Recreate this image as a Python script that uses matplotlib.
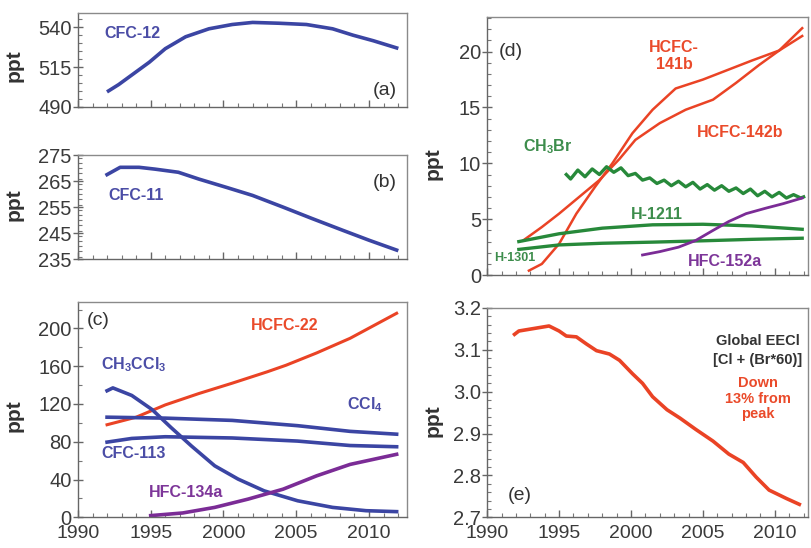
import matplotlib
matplotlib.use("Agg")
import matplotlib.pyplot as plt
from matplotlib.ticker import MultipleLocator, FormatStrFormatter

plt.rcParams['font.family'] = ['Liberation Sans', 'DejaVu Sans']
plt.rcParams['mathtext.fontset'] = 'custom'
plt.rcParams['mathtext.rm'] = 'Liberation Sans:bold'
plt.rcParams['mathtext.bf'] = 'Liberation Sans:bold'

BLUE = '#3b45a3'
RED = '#ea4325'
GREEN = '#27893a'
PURPLE = '#7b2c96'
BLUE_T = '#4b4da6'
RED_T = '#ea4a2a'
GREEN_T = '#3d8d4c'
PURPLE_T = '#7d3699'

# (a) CFC-12
cfc12_year = [1992.1, 1992.8, 1993.7, 1994.9, 1996.0, 1997.4, 1999.0, 2000.6, 2002.0,
              2003.8, 2005.7, 2007.5, 2008.9, 2010.3, 2011.9]
cfc12 = [500, 504, 510, 518, 526.5, 534, 539, 541.7, 543, 542.5, 541.7, 539, 535, 531.5, 527]

# (b) CFC-11
cfc11_year = [1992.0, 1992.9, 1994.2, 1995.3, 1996.9, 1998.3, 2000.2, 2002.0, 2004.1,
              2006.1, 2008.2, 2010.0, 2011.9]
cfc11 = [267.5, 270.3, 270.3, 269.6, 268.4, 265.8, 262.6, 259.5, 255, 250.6, 246.1, 242.3, 238.5]

# (c)
hcfc22_year = [1992.0, 1994.0, 1996.0, 1998.3, 2000.6, 2003.0, 2004.3, 2006.4, 2008.7, 2011.9]
hcfc22 = [98, 106, 119, 131, 142, 154, 161, 174, 189.5, 216]

ch3ccl3_year = [1992.0, 1992.4, 1993.7, 1995.1, 1996.4, 1997.8, 1999.4, 2001.0, 2002.8,
                2005.1, 2007.5, 2009.8, 2011.9]
ch3ccl3 = [134, 137, 129, 114, 95, 75.5, 54.5, 40.5, 28, 17.5, 10.5, 7, 6]

ccl4_year = [1992.0, 1996.0, 2000.6, 2005.1, 2008.7, 2011.9]
ccl4 = [106, 105, 102.6, 97, 91, 88]

cfc113_year = [1992.0, 1993.7, 1996.0, 2000.6, 2005.1, 2008.7, 2011.9]
cfc113 = [79.6, 83.5, 85.3, 84, 80.7, 76, 74.7]

hfc134a_year = [1995.0, 1997.2, 1999.4, 2001.7, 2004.1, 2006.4, 2008.7, 2011.9]
hfc134a = [1.8, 4.6, 10.5, 19.3, 29.8, 43.9, 56, 66.7]

# (d)
hcfc141b_year = [1992.9, 1993.8, 1995.0, 1996.2, 1997.5, 1998.7, 2000.1, 2001.5, 2003.1,
                 2005.0, 2006.8, 2008.4, 2010.3, 2011.9]
hcfc141b = [0.4, 1.0, 2.8, 5.5, 7.9, 10.0, 12.7, 14.8, 16.7, 17.5, 18.4, 19.2, 20.1, 21.4]

hcfc142b_year = [1992.5, 1993.8, 1995.0, 1996.4, 1997.8, 1999.2, 2000.3, 2002.0, 2003.8,
                 2005.7, 2007.3, 2008.9, 2010.3, 2011.9]
hcfc142b = [3.1, 4.3, 5.5, 7.0, 8.5, 10.4, 12.1, 13.6, 14.8, 15.7, 17.2, 18.8, 20.1, 22.1]

ch3br_year = [1995.5, 1995.8, 1996.3, 1996.8, 1997.3, 1997.8, 1998.3, 1998.8, 1999.3, 1999.8,
              2000.3, 2000.8, 2001.3, 2001.8, 2002.3, 2002.8, 2003.3, 2003.8, 2004.3, 2004.8,
              2005.3, 2005.8, 2006.3, 2006.8, 2007.3, 2007.8, 2008.3, 2008.8, 2009.3, 2009.8,
              2010.3, 2010.8, 2011.3, 2011.8, 2012.0]
ch3br = [9.0, 8.6, 9.4, 8.8, 9.5, 9.0, 9.7, 9.2, 9.6, 8.9,
         9.1, 8.5, 8.7, 8.2, 8.5, 8.0, 8.4, 7.9, 8.3, 7.7,
         8.1, 7.6, 8.0, 7.5, 7.8, 7.3, 7.7, 7.1, 7.5, 7.0,
         7.4, 6.9, 7.2, 6.9, 7.0]

h1211_year = [1992.2, 1995.0, 1998.0, 2001.5, 2005.0, 2008.4, 2011.9]
h1211 = [3.0, 3.7, 4.2, 4.5, 4.55, 4.4, 4.1]

h1301_year = [1992.2, 1995.0, 1998.0, 2001.5, 2005.0, 2008.4, 2011.9]
h1301 = [2.3, 2.7, 2.85, 2.95, 3.07, 3.2, 3.3]

hfc152a_year = [2000.8, 2002.0, 2003.3, 2004.5, 2005.7, 2006.8, 2008.0, 2009.4, 2010.6, 2011.9]
hfc152a = [1.8, 2.1, 2.5, 3.1, 4.0, 4.8, 5.5, 6.0, 6.4, 6.9]

# (e) EECl
eecl_year = [1991.9, 1992.2, 1992.9, 1994.3, 1995.0, 1995.5, 1996.2, 1996.9, 1997.6, 1998.5,
             1999.2, 2000.1, 2000.8, 2001.5, 2002.5, 2003.4, 2004.5, 2005.7, 2006.8, 2007.8,
             2008.7, 2009.6, 2010.8, 2011.7]
eecl = [3.137, 3.145, 3.149, 3.157, 3.145, 3.133, 3.131, 3.114, 3.098, 3.090,
        3.075, 3.043, 3.020, 2.988, 2.957, 2.937, 2.910, 2.882, 2.851, 2.831,
        2.796, 2.765, 2.745, 2.731]

# y ticks for each panel
yticks_a = [490, 515, 540]
yticks_b = [235, 245, 255, 265, 275]
yticks_c = [0, 40, 80, 120, 160, 200]
yticks_d = [0, 5, 10, 15, 20]
yticks_e = [2.7, 2.8, 2.9, 3.0, 3.1, 3.2]

fig = plt.figure(figsize=(8.12, 5.48), dpi=100)
ax_a = fig.add_axes([0.096, 0.805, 0.405, 0.1715])
ax_b = fig.add_axes([0.096, 0.527, 0.405, 0.190])
ax_c = fig.add_axes([0.096, 0.056, 0.405, 0.393])
ax_d = fig.add_axes([0.600, 0.498, 0.395, 0.471])
ax_e = fig.add_axes([0.600, 0.056, 0.395, 0.382])


def style(ax, ylim, yticks, minor, xlabels, xmax):
    ax.set_xlim(1990, xmax)
    ax.set_ylim(*ylim)
    ax.xaxis.set_major_locator(MultipleLocator(5))
    ax.xaxis.set_minor_locator(MultipleLocator(1))
    ax.set_yticks(yticks)
    ax.yaxis.set_minor_locator(MultipleLocator(minor))
    for s in ax.spines.values():
        s.set_color('#8a8a8a')
        s.set_linewidth(1.0)
    ax.spines['left'].set_color('#666666')
    ax.spines['bottom'].set_color('#666666')
    ax.tick_params(which='major', direction='inout', length=7, width=1, color='#666666',
                   labelsize=14.5, labelcolor='#3a3a3a', pad=1)
    ax.tick_params(which='minor', direction='in', length=3, width=0.8, color='#777777')
    ax.tick_params(axis='x', which='major', direction='in', length=5, pad=5.5, labelsize=14)
    if not xlabels:
        ax.tick_params(axis='x', labelbottom=False)
    ax.set_ylabel('ppt', fontsize=15, fontweight='bold', color='#333333')


style(ax_a, (490, 549), yticks_a, 5, False, 2012.6)
style(ax_b, (235, 275), yticks_b, 2, False, 2012.6)
style(ax_c, (0, 228), yticks_c, 20, True, 2012.6)
style(ax_d, (0, 23.1), yticks_d, 1, False, 2012.3)
style(ax_e, (2.7, 3.2), yticks_e, 0.02, True, 2012.3)
ax_e.yaxis.set_major_formatter(FormatStrFormatter('%.1f'))

ax_a.yaxis.set_label_coords(-0.165, 0.44)
ax_b.yaxis.set_label_coords(-0.165, 0.52)
ax_c.yaxis.set_label_coords(-0.165, 0.47)
ax_d.yaxis.set_label_coords(-0.14, 0.43)
ax_e.yaxis.set_label_coords(-0.14, 0.46)

FS = 11.5

# (a)
ax_a.plot(cfc12_year, cfc12, color=BLUE, lw=2.6)
ax_a.text(1991.8, 536, 'CFC-12', color=BLUE_T, fontsize=FS, fontweight='bold', va='center')
ax_a.text(2011.9, 500, '(a)', color='#333333', fontsize=14, ha='right', va='center')

# (b)
ax_b.plot(cfc11_year, cfc11, color=BLUE, lw=2.6)
ax_b.text(1992.1, 259.5, 'CFC-11', color=BLUE_T, fontsize=FS, fontweight='bold', va='center')
ax_b.text(2011.9, 264.5, '(b)', color='#333333', fontsize=14, ha='right', va='center')

# (c)
ax_c.plot(hcfc22_year, hcfc22, color=RED, lw=2.2)
ax_c.plot(ch3ccl3_year, ch3ccl3, color=BLUE, lw=2.6)
ax_c.plot(ccl4_year, ccl4, color=BLUE, lw=2.6)
ax_c.plot(cfc113_year, cfc113, color=BLUE, lw=2.6)
ax_c.plot(hfc134a_year, hfc134a, color=PURPLE, lw=2.6)
ax_c.text(1990.6, 208, '(c)', color='#333333', fontsize=14, va='center')
ax_c.text(2004.2, 203, 'HCFC-22', color=RED_T, fontsize=FS, fontweight='bold',
          ha='center', va='center')
ax_c.text(1991.6, 162, r'CH$_3$CCl$_3$', color=BLUE_T, fontsize=FS, fontweight='bold',
          va='center')
ax_c.text(2009.7, 119, r'CCl$_4$', color=BLUE_T, fontsize=FS, fontweight='bold',
          ha='center', va='center')
ax_c.text(1991.6, 68, 'CFC-113', color=BLUE_T, fontsize=FS, fontweight='bold', va='center')
ax_c.text(1994.9, 26, 'HFC-134a', color=PURPLE_T, fontsize=FS, fontweight='bold', va='center')

# (d)
ax_d.plot(hcfc141b_year, hcfc141b, color=RED, lw=1.8)
ax_d.plot(hcfc142b_year, hcfc142b, color=RED, lw=1.8)
ax_d.plot(ch3br_year, ch3br, color=GREEN, lw=2.4)
ax_d.plot(h1211_year, h1211, color=GREEN, lw=2.4)
ax_d.plot(h1301_year, h1301, color=GREEN, lw=2.4)
ax_d.plot(hfc152a_year, hfc152a, color=PURPLE, lw=2.0)
ax_d.text(1990.8, 20, '(d)', color='#333333', fontsize=14, va='center')
ax_d.text(2003.0, 19.6, 'HCFC-\n141b', color=RED_T, fontsize=FS, fontweight='bold',
          ha='center', va='center', linespacing=1.2)
ax_d.text(2007.6, 12.8, 'HCFC-142b', color=RED_T, fontsize=FS, fontweight='bold',
          ha='center', va='center')
ax_d.text(1994.2, 11.5, r'CH$_3$Br', color=GREEN_T, fontsize=FS, fontweight='bold',
          ha='center', va='center')
ax_d.text(2001.8, 5.4, 'H-1211', color=GREEN_T, fontsize=FS, fontweight='bold',
          ha='center', va='center')
ax_d.text(1990.5, 1.5, 'H-1301', color=GREEN_T, fontsize=9, fontweight='bold', va='center')
ax_d.text(2006.5, 1.2, 'HFC-152a', color=PURPLE_T, fontsize=FS, fontweight='bold',
          ha='center', va='center')

# (e)
ax_e.plot(eecl_year, eecl, color=RED, lw=2.6)
ax_e.text(1991.4, 2.753, '(e)', color='#333333', fontsize=14, va='center')
ax_e.text(2008.8, 3.122, 'Global EECl', color='#333333', fontsize=10.5, fontweight='bold',
          ha='center', va='center')
ax_e.text(2008.8, 3.076, '[Cl + (Br*60)]', color='#333333', fontsize=10.5, fontweight='bold',
          ha='center', va='center')
ax_e.text(2008.8, 2.983, 'Down\n13% from\npeak', color=RED_T, fontsize=10.5, fontweight='bold',
          ha='center', va='center', linespacing=1.15)

fig.savefig('out.png', dpi=100)
